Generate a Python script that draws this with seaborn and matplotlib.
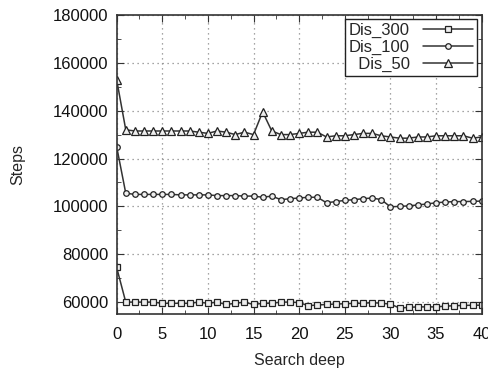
import numpy as np
import pandas as pd
import matplotlib
matplotlib.use("Agg")
import matplotlib.pyplot as plt
import seaborn as sns
from matplotlib.ticker import MultipleLocator

# Search deep 0..40
depth = list(range(41))

dis_300 = [74500, 60000, 60000, 60000, 60000, 59500, 59500, 59500, 59500, 60000,
           59500, 60000, 59000, 59500, 60000, 59000, 59500, 59500, 60000, 60000,
           59800, 58500, 58800, 59000, 59200, 59300, 59500, 59500, 59800, 59500,
           59200, 57500, 57800, 58000, 58000, 58000, 58300, 58500, 58600, 58700,
           58700]

dis_100 = [125000, 105500, 105000, 105000, 105000, 105000, 105000, 104800, 104800, 104800,
           104800, 104500, 104500, 104500, 104300, 104300, 103800, 104300, 102800, 103200,
           103500, 103800, 103800, 101500, 102000, 102500, 102800, 103200, 103500, 102800,
           99800, 100000, 100200, 100600, 101000, 101500, 101800, 102000, 102000, 102100,
           102200]

dis_50 = [153000, 132000, 131500, 131500, 131500, 131500, 131500, 131500, 131500, 131000,
          130500, 131500, 131000, 130000, 131000, 130000, 139500, 131500, 130000, 130000,
          130500, 131000, 131000, 129000, 129500, 129500, 130000, 130500, 130500, 129500,
          129000, 128500, 128500, 129000, 129000, 129500, 129500, 129500, 129500, 128500,
          129000]

series_names = ["Dis_300", "Dis_100", "Dis_50"]
legend_labels = ["Dis_300", "Dis_100", "  Dis_50"]
markers = ["s", "o", "^"]
marker_sizes = [5, 4, 5.5]

df = pd.DataFrame({"depth": depth, "Dis_300": dis_300, "Dis_100": dis_100, "Dis_50": dis_50})

sns.set_style("ticks")
plt.rcParams['font.family'] = ['Liberation Sans', 'DejaVu Sans']

fig = plt.figure(figsize=(4.88, 3.73), dpi=100)
ax = fig.add_axes([0.239, 0.158, 0.748, 0.802])

line_color = "#333333"
for name, lab, mk, ms in zip(series_names, legend_labels, markers, marker_sizes):
    sns.lineplot(data=df, x="depth", y=name, ax=ax, color=line_color, linewidth=1.1,
                 marker=mk, markersize=ms, markerfacecolor="#eeeeee",
                 markeredgecolor="#222222", markeredgewidth=0.9, label=lab)

ax.set_xlim(0, 40)
ax.set_ylim(55000, 180000)
ax.xaxis.set_major_locator(MultipleLocator(5))
ax.xaxis.set_minor_locator(MultipleLocator(2.5))
ax.yaxis.set_major_locator(MultipleLocator(20000))
ax.yaxis.set_minor_locator(MultipleLocator(10000))
ax.tick_params(which="both", direction="in", top=True, right=True, labelsize=12,
               color="#333333", labelcolor="#111111")
ax.tick_params(which="major", length=5)
ax.tick_params(which="minor", length=3)
ax.tick_params(axis="x", pad=9)
ax.tick_params(axis="y", pad=6)
ax.grid(True, which="major", linestyle=(0, (1, 3)), color="#888888", linewidth=0.9)
for sp in ax.spines.values():
    sp.set_color("#333333")
    sp.set_linewidth(1.2)

ax.set_xlabel("Search deep", fontsize=11.5, labelpad=8)
ax.set_ylabel("Steps", fontsize=11.5, labelpad=20)

leg = ax.legend(loc="upper right", markerfirst=False, fontsize=12, frameon=True,
                fancybox=False, edgecolor="#222222", framealpha=1, handlelength=3.0,
                borderpad=0.25, labelspacing=0.1, handletextpad=0.8,
                borderaxespad=0.25)
leg.get_frame().set_linewidth(1.0)

fig.savefig("out.png", dpi=100)
